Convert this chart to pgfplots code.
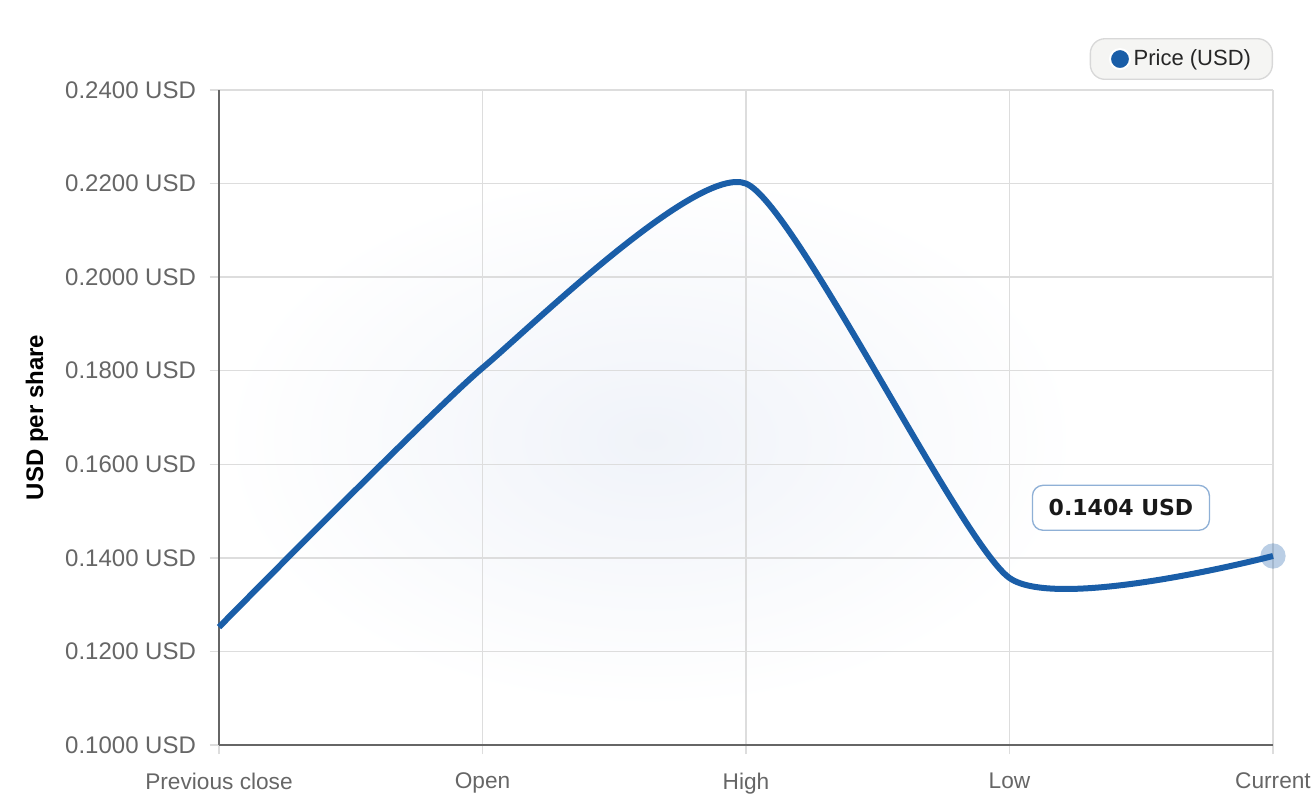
\documentclass[border=0pt]{standalone}
\usepackage{pgfplots}
\pgfplotsset{compat=1.18}
\usepackage{fontspec}
\setmainfont{Liberation Sans}
\newfontfamily\dejavu{DejaVu Sans}

\definecolor{lineblue}{HTML}{1A5EA8}
\definecolor{tickgray}{HTML}{666666}
\definecolor{gridgray}{HTML}{DDDDDD}
\definecolor{axisgray}{HTML}{666666}
\definecolor{legfill}{HTML}{F5F5F3}
\definecolor{legdraw}{HTML}{D8D8D8}
\definecolor{notedraw}{HTML}{8FB0D6}
\definecolor{glow}{HTML}{F0F3F9}

\begin{document}
\begin{tikzpicture}
% faint background glow behind the plot
\begin{scope}[x=0.75pt,y=-0.75pt,shift={(-164.25pt,558.75pt)}]
  \shade[inner color=glow, outer color=white] (650,440) ellipse (430 and 270);
\end{scope}
\begin{axis}[
    scale only axis,
    width=790.5pt, height=491.25pt,
    xmin=0, xmax=4,
    ymin=0.1, ymax=0.24,
    xtick={0,1,2,3,4},
    xticklabels={Previous close,Open,High,Low,Current},
    ytick={0.10,0.12,0.14,0.16,0.18,0.20,0.22,0.24},
    yticklabels={0.1000 USD,0.1200 USD,0.1400 USD,0.1600 USD,0.1800 USD,0.2000 USD,0.2200 USD,0.2400 USD},
    axis lines*=left,
    axis line style={axisgray, line width=1.5pt},
    grid=major,
    major grid style={gridgray, line width=1pt},
    tick align=outside,
    major tick length=7pt,
    tick style={gridgray, line width=1pt},
    yticklabel style={font=\fontsize{18}{20}\selectfont, text=tickgray, anchor=east, xshift=-6.75pt},
    xticklabel style={font=\fontsize{17}{20}\selectfont, text=tickgray, anchor=north, yshift=-10.5pt},
    ylabel={USD per share},
    every axis y label/.style={at={(axis description cs:-0.1727,0.5)}, rotate=90, anchor=center,
        font=\fontsize{18}{20}\selectfont\bfseries, text=black},
    legend style={at={(rel axis cs:1,1)}, anchor=south east, yshift=7.5pt,
        draw=legdraw, fill=legfill, rounded corners=11pt, line width=1pt,
        font=\fontsize{16.5}{18}\selectfont, text=black!85,
        inner xsep=14pt, inner ysep=6.5pt},
    legend image code/.code={
        \draw[white, fill=lineblue, line width=1.5pt] (0.1em,0) circle (7.5pt);},
    clip=false,
]
\addplot[lineblue, line width=4.5pt, smooth, tension=0.33]
    coordinates {(0,0.1252) (1,0.1806) (2,0.2200) (3,0.1357) (4,0.1404)};
\addlegendentry{Price (USD)}
\addplot[only marks, color=lineblue, mark=*, mark size=9.5pt,
    mark options={fill=lineblue, fill opacity=0.3, draw opacity=0},
    forget plot] coordinates {(4,0.1404)};
\node[draw=notedraw, line width=1pt, fill=white, rounded corners=8pt,
      minimum width=132.75pt, minimum height=33.75pt,
      font=\dejavu\bfseries\fontsize{16.5}{18}\selectfont, text=black!90]
    at (axis cs:3.423,0.1507) {0.1404 USD};
\end{axis}
\begin{scope}[x=0.75pt,y=-0.75pt,shift={(-164.25pt,558.75pt)}]
  \pgfresetboundingbox
  \useasboundingbox (0,0) rectangle (1316,808);
\end{scope}
\end{tikzpicture}
\end{document}
